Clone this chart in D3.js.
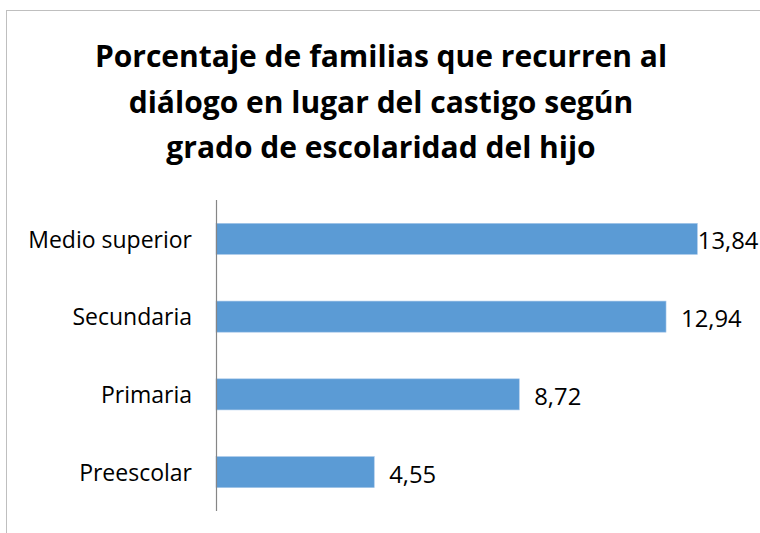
<!DOCTYPE html>
<html>
<head>
<meta charset="utf-8">
<script src="https://cdn.jsdelivr.net/npm/d3@7"></script>
<style>
  html, body { margin: 0; padding: 0; background: #fff; }
  svg { display: block; }
</style>
</head>
<body>
<svg id="chart" width="760" height="533"></svg>
<script>
const titleLines = [
  "Porcentaje de familias que recurren al",
  "diálogo en lugar del castigo según",
  "grado de escolaridad del hijo"
];
const categories = ["Medio superior", "Secundaria", "Primaria", "Preescolar"];
const values = [13.84, 12.94, 8.72, 4.55];
const valueLabels = ["13,84", "12,94", "8,72", "4,55"];

const FONT = "'Open Sans', sans-serif";
const svg = d3.select("#chart");
const W = 760, H = 533;

// chart border
svg.append("rect")
  .attr("x", 6.5).attr("y", 10.5)
  .attr("width", W + 20).attr("height", H + 20)
  .attr("fill", "#fff")
  .attr("stroke", "#bfbfbf").attr("stroke-width", 1);

// title
const title = svg.append("text")
  .attr("text-anchor", "middle")
  .attr("font-family", FONT)
  .attr("font-weight", "bold")
  .attr("font-size", 30)
  .attr("fill", "#000");
titleLines.forEach((t, i) => {
  title.append("tspan").attr("x", 381).attr("y", 67 + i * 45.5).text(t);
});

const x = d3.scaleLinear().domain([0, 14]).range([216, 702.9]);
const y = d3.scaleBand().domain(categories).range([200, 511])
  .paddingInner(0.6).paddingOuter(0.3);

// bars
svg.append("g").selectAll("rect")
  .data(categories)
  .join("rect")
  .attr("x", x(0))
  .attr("y", d => y(d))
  .attr("width", (d, i) => x(values[i]) - x(0))
  .attr("height", y.bandwidth())
  .attr("fill", "#5b9bd5")
  .attr("stroke", "#a9c8ea")
  .attr("stroke-width", 0.6);

// vertical axis line
const yAxis = d3.axisLeft(y).tickSize(0).tickPadding(24);
const gy = svg.append("g").attr("transform", `translate(${x(0)},0)`).call(yAxis);
gy.select(".domain").attr("stroke", "#868686").attr("stroke-width", 1.2)
  .attr("d", "M0.5,200V511");
gy.selectAll(".tick text")
  .attr("font-family", FONT)
  .attr("font-size", 23)
  .attr("fill", "#000")
  .attr("dy", null)
  .attr("y", 8.8)
  .attr("x", -24);

// value labels
svg.append("g").selectAll("text")
  .data(categories)
  .join("text")
  .attr("x", (d, i) => i === 0 ? x(values[i]) + 0.5 : x(values[i]) + 15)
  .attr("y", d => y(d) + y.bandwidth() / 2 + 10.5)
  .attr("font-family", FONT)
  .attr("font-size", 23.8)
  .attr("fill", "#000")
  .text((d, i) => valueLabels[i]);
</script>
</body>
</html>
